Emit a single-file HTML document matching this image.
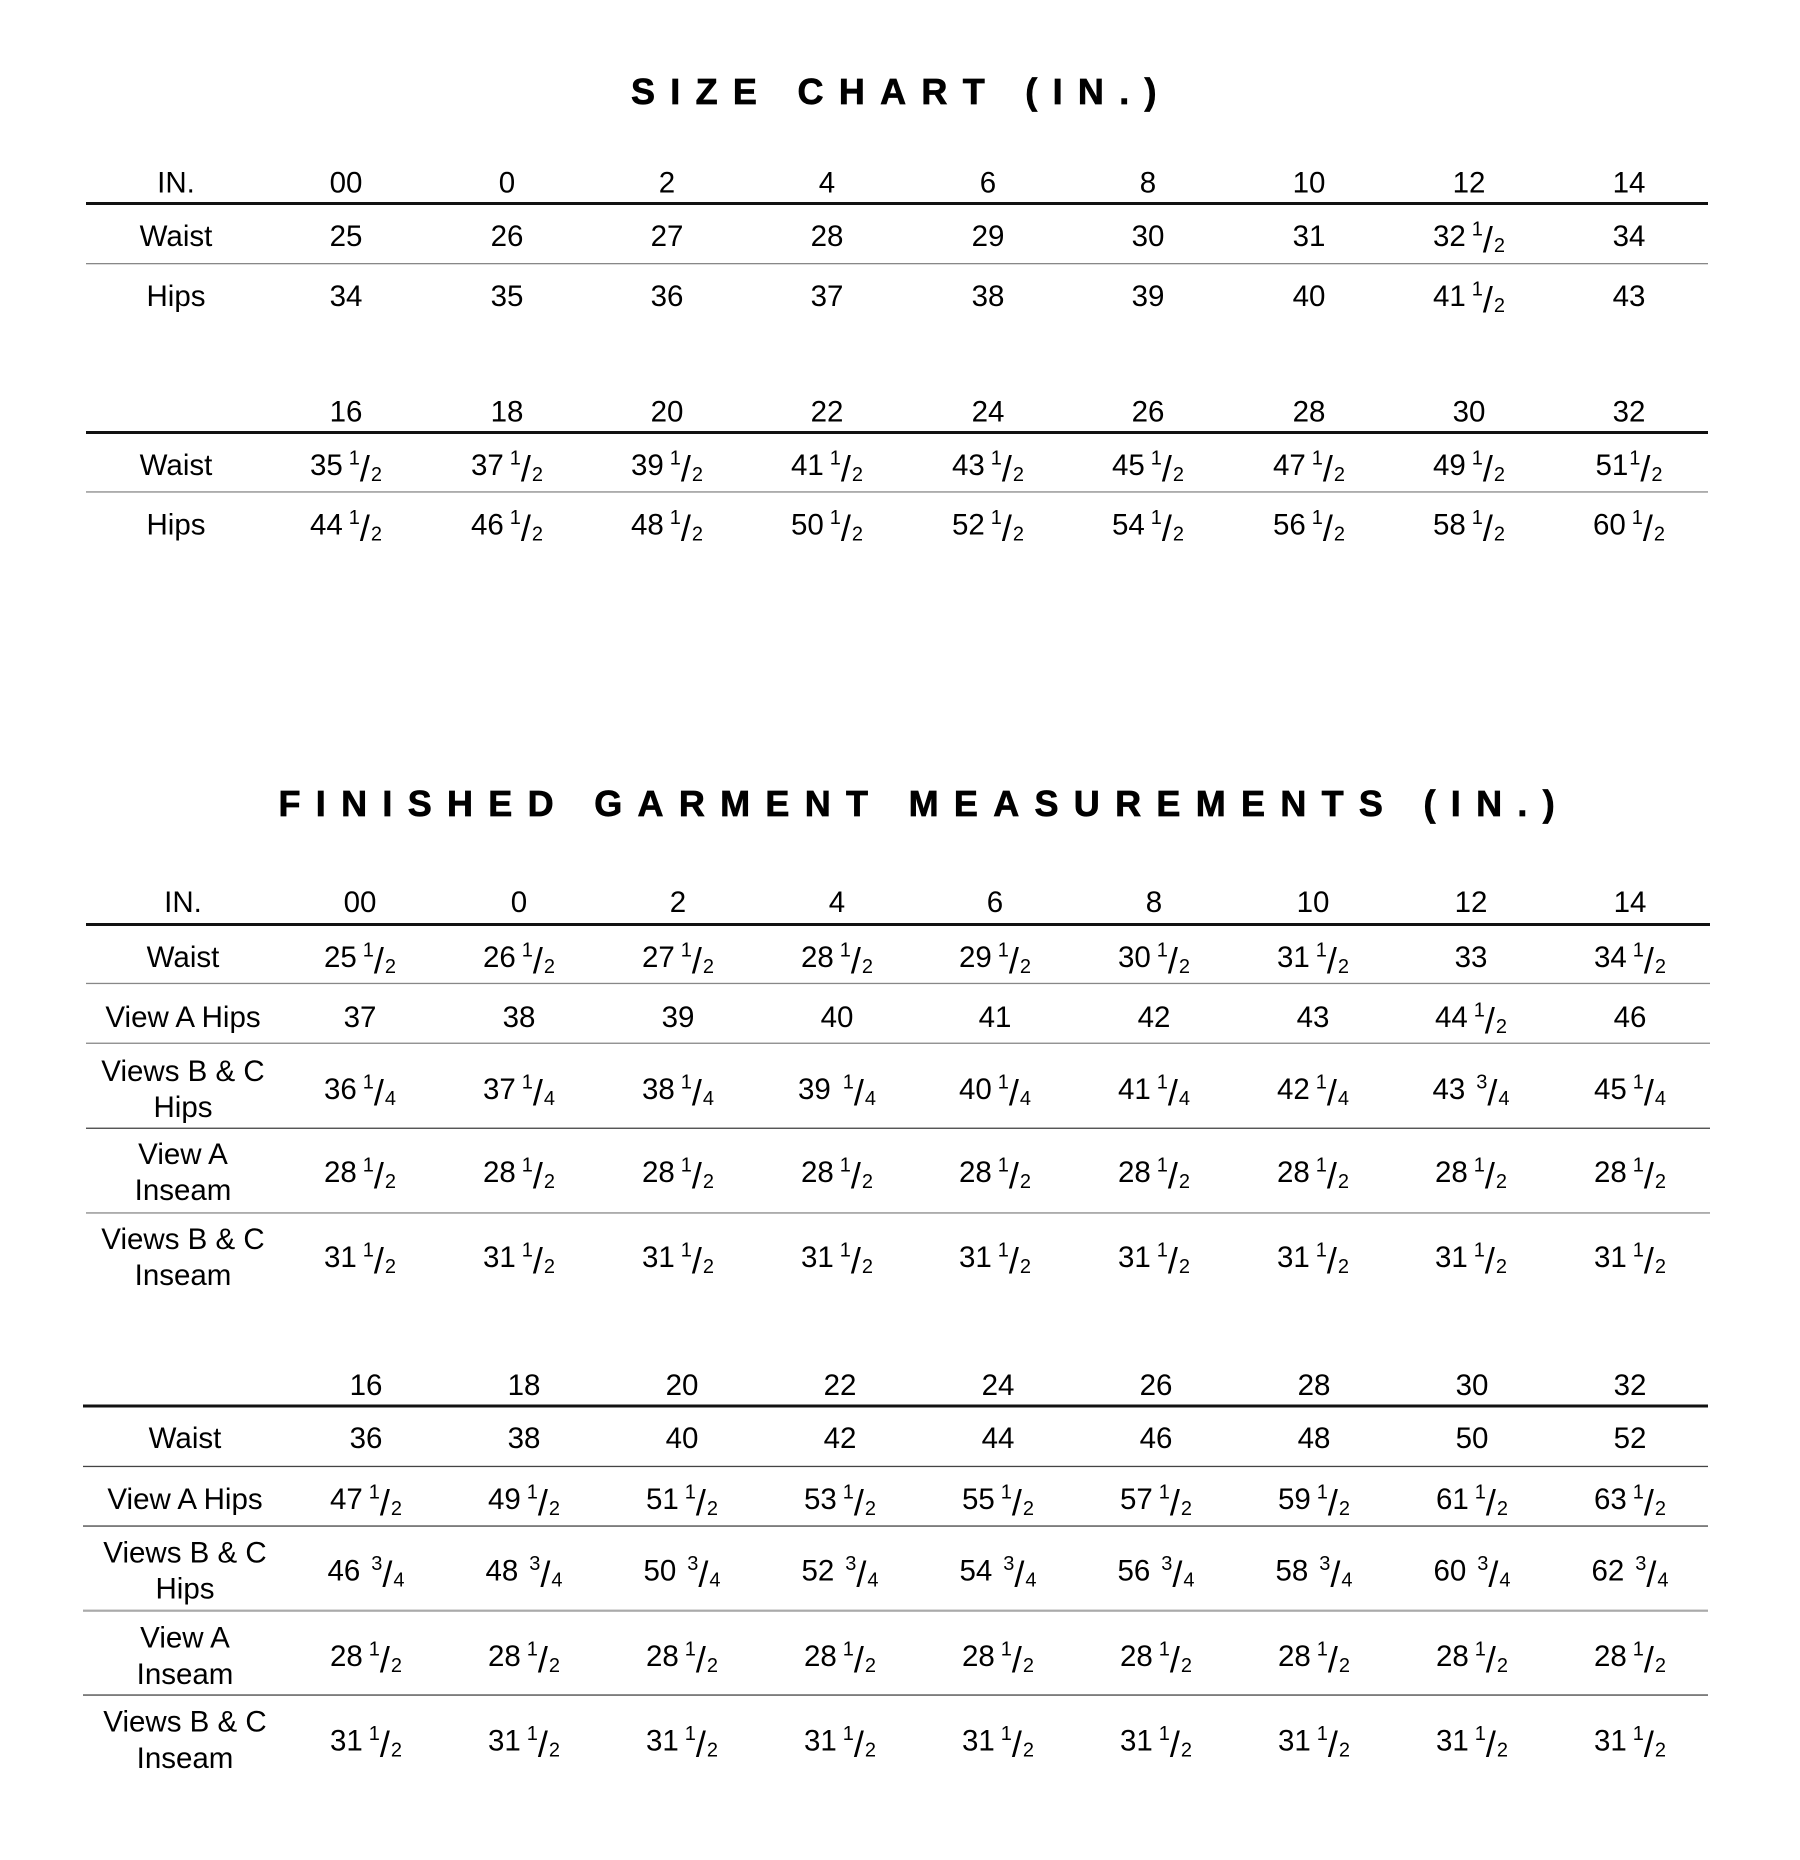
<!DOCTYPE html>
<html>
<head>
<meta charset="utf-8">
<style>
html,body{margin:0;padding:0;background:#fff;}
svg{display:block;}
text{font-family:"Liberation Sans",Arial,sans-serif;font-size:29.5px;fill:#000;text-anchor:middle;}
.f{font-size:20px;}
.sl{font-size:36px;}
text.t{font-size:36px;font-weight:bold;letter-spacing:15.3px;text-anchor:start;stroke:#000;stroke-width:0.7px;}
</style>
</head>
<body>
<svg width="1800" height="1860" viewBox="0 0 1800 1860" xmlns="http://www.w3.org/2000/svg">
<rect x="0" y="0" width="1800" height="1860" fill="#fff"/>

<!-- Titles -->
<text class="t" x="631" y="104">SIZE CHART (IN.)</text>
<text class="t" x="278.5" y="816">FINISHED GARMENT MEASUREMENTS (IN.)</text>

<!-- ===== TABLE 1 ===== -->
<rect x="86" y="202" width="1622" height="3" fill="#111"/>
<rect x="86" y="263" width="1622" height="1.3" fill="#888"/>

<text x="176" y="192.5">IN.</text>
<text x="346" y="192.5">00</text>
<text x="507" y="192.5">0</text>
<text x="667" y="192.5">2</text>
<text x="827" y="192.5">4</text>
<text x="988" y="192.5">6</text>
<text x="1148" y="192.5">8</text>
<text x="1309" y="192.5">10</text>
<text x="1469" y="192.5">12</text>
<text x="1629" y="192.5">14</text>

<text x="176" y="246">Waist</text>
<text x="346" y="246">25</text>
<text x="507" y="246">26</text>
<text x="667" y="246">27</text>
<text x="827" y="246">28</text>
<text x="988" y="246">29</text>
<text x="1148" y="246">30</text>
<text x="1309" y="246">31</text>
<text x="1469" y="246">32<tspan dx="6" dy="-10.5" class="f">1</tspan><tspan dy="16.5" class="sl">/</tspan><tspan dx="1" class="f">2</tspan></text>
<text x="1629" y="246">34</text>

<text x="176" y="306">Hips</text>
<text x="346" y="306">34</text>
<text x="507" y="306">35</text>
<text x="667" y="306">36</text>
<text x="827" y="306">37</text>
<text x="988" y="306">38</text>
<text x="1148" y="306">39</text>
<text x="1309" y="306">40</text>
<text x="1469" y="306">41<tspan dx="6" dy="-10.5" class="f">1</tspan><tspan dy="16.5" class="sl">/</tspan><tspan dx="1" class="f">2</tspan></text>
<text x="1629" y="306">43</text>

<!-- ===== TABLE 1b ===== -->
<rect x="86" y="431" width="1622" height="3" fill="#111"/>
<rect x="86" y="491.3" width="1622" height="1.3" fill="#888"/>

<text x="346" y="421.5">16</text>
<text x="507" y="421.5">18</text>
<text x="667" y="421.5">20</text>
<text x="827" y="421.5">22</text>
<text x="988" y="421.5">24</text>
<text x="1148" y="421.5">26</text>
<text x="1309" y="421.5">28</text>
<text x="1469" y="421.5">30</text>
<text x="1629" y="421.5">32</text>

<text x="176" y="475">Waist</text>
<text x="346" y="475">35<tspan dx="6" dy="-10.5" class="f">1</tspan><tspan dy="16.5" class="sl">/</tspan><tspan dx="1" class="f">2</tspan></text>
<text x="507" y="475">37<tspan dx="6" dy="-10.5" class="f">1</tspan><tspan dy="16.5" class="sl">/</tspan><tspan dx="1" class="f">2</tspan></text>
<text x="667" y="475">39<tspan dx="6" dy="-10.5" class="f">1</tspan><tspan dy="16.5" class="sl">/</tspan><tspan dx="1" class="f">2</tspan></text>
<text x="827" y="475">41<tspan dx="6" dy="-10.5" class="f">1</tspan><tspan dy="16.5" class="sl">/</tspan><tspan dx="1" class="f">2</tspan></text>
<text x="988" y="475">43<tspan dx="6" dy="-10.5" class="f">1</tspan><tspan dy="16.5" class="sl">/</tspan><tspan dx="1" class="f">2</tspan></text>
<text x="1148" y="475">45<tspan dx="6" dy="-10.5" class="f">1</tspan><tspan dy="16.5" class="sl">/</tspan><tspan dx="1" class="f">2</tspan></text>
<text x="1309" y="475">47<tspan dx="6" dy="-10.5" class="f">1</tspan><tspan dy="16.5" class="sl">/</tspan><tspan dx="1" class="f">2</tspan></text>
<text x="1469" y="475">49<tspan dx="6" dy="-10.5" class="f">1</tspan><tspan dy="16.5" class="sl">/</tspan><tspan dx="1" class="f">2</tspan></text>
<text x="1629" y="475">51<tspan dx="1" dy="-10.5" class="f">1</tspan><tspan dy="16.5" class="sl">/</tspan><tspan dx="1" class="f">2</tspan></text>

<text x="176" y="534.5">Hips</text>
<text x="346" y="534.5">44<tspan dx="6" dy="-10.5" class="f">1</tspan><tspan dy="16.5" class="sl">/</tspan><tspan dx="1" class="f">2</tspan></text>
<text x="507" y="534.5">46<tspan dx="6" dy="-10.5" class="f">1</tspan><tspan dy="16.5" class="sl">/</tspan><tspan dx="1" class="f">2</tspan></text>
<text x="667" y="534.5">48<tspan dx="6" dy="-10.5" class="f">1</tspan><tspan dy="16.5" class="sl">/</tspan><tspan dx="1" class="f">2</tspan></text>
<text x="827" y="534.5">50<tspan dx="6" dy="-10.5" class="f">1</tspan><tspan dy="16.5" class="sl">/</tspan><tspan dx="1" class="f">2</tspan></text>
<text x="988" y="534.5">52<tspan dx="6" dy="-10.5" class="f">1</tspan><tspan dy="16.5" class="sl">/</tspan><tspan dx="1" class="f">2</tspan></text>
<text x="1148" y="534.5">54<tspan dx="6" dy="-10.5" class="f">1</tspan><tspan dy="16.5" class="sl">/</tspan><tspan dx="1" class="f">2</tspan></text>
<text x="1309" y="534.5">56<tspan dx="6" dy="-10.5" class="f">1</tspan><tspan dy="16.5" class="sl">/</tspan><tspan dx="1" class="f">2</tspan></text>
<text x="1469" y="534.5">58<tspan dx="6" dy="-10.5" class="f">1</tspan><tspan dy="16.5" class="sl">/</tspan><tspan dx="1" class="f">2</tspan></text>
<text x="1629" y="534.5">60<tspan dx="6" dy="-10.5" class="f">1</tspan><tspan dy="16.5" class="sl">/</tspan><tspan dx="1" class="f">2</tspan></text>

<!-- ===== TABLE 2 ===== -->
<rect x="86" y="923" width="1624" height="3" fill="#111"/>
<rect x="86" y="982.8" width="1624" height="1.3" fill="#888"/>
<rect x="86" y="1042.6" width="1624" height="1.3" fill="#888"/>
<rect x="86" y="1127.6" width="1624" height="1.3" fill="#444"/>
<rect x="86" y="1212.3" width="1624" height="1.3" fill="#888"/>

<text x="183" y="912">IN.</text>
<text x="360" y="912">00</text>
<text x="519" y="912">0</text>
<text x="678" y="912">2</text>
<text x="837" y="912">4</text>
<text x="995" y="912">6</text>
<text x="1154" y="912">8</text>
<text x="1313" y="912">10</text>
<text x="1471" y="912">12</text>
<text x="1630" y="912">14</text>

<text x="183" y="967">Waist</text>
<text x="360" y="967">25<tspan dx="6" dy="-10.5" class="f">1</tspan><tspan dy="16.5" class="sl">/</tspan><tspan dx="1" class="f">2</tspan></text>
<text x="519" y="967">26<tspan dx="6" dy="-10.5" class="f">1</tspan><tspan dy="16.5" class="sl">/</tspan><tspan dx="1" class="f">2</tspan></text>
<text x="678" y="967">27<tspan dx="6" dy="-10.5" class="f">1</tspan><tspan dy="16.5" class="sl">/</tspan><tspan dx="1" class="f">2</tspan></text>
<text x="837" y="967">28<tspan dx="6" dy="-10.5" class="f">1</tspan><tspan dy="16.5" class="sl">/</tspan><tspan dx="1" class="f">2</tspan></text>
<text x="995" y="967">29<tspan dx="6" dy="-10.5" class="f">1</tspan><tspan dy="16.5" class="sl">/</tspan><tspan dx="1" class="f">2</tspan></text>
<text x="1154" y="967">30<tspan dx="6" dy="-10.5" class="f">1</tspan><tspan dy="16.5" class="sl">/</tspan><tspan dx="1" class="f">2</tspan></text>
<text x="1313" y="967">31<tspan dx="6" dy="-10.5" class="f">1</tspan><tspan dy="16.5" class="sl">/</tspan><tspan dx="1" class="f">2</tspan></text>
<text x="1471" y="967">33</text>
<text x="1630" y="967">34<tspan dx="6" dy="-10.5" class="f">1</tspan><tspan dy="16.5" class="sl">/</tspan><tspan dx="1" class="f">2</tspan></text>

<text x="183" y="1027">View A Hips</text>
<text x="360" y="1027">37</text>
<text x="519" y="1027">38</text>
<text x="678" y="1027">39</text>
<text x="837" y="1027">40</text>
<text x="995" y="1027">41</text>
<text x="1154" y="1027">42</text>
<text x="1313" y="1027">43</text>
<text x="1471" y="1027">44<tspan dx="6" dy="-10.5" class="f">1</tspan><tspan dy="16.5" class="sl">/</tspan><tspan dx="1" class="f">2</tspan></text>
<text x="1630" y="1027">46</text>

<text x="183" y="1081">Views B &amp; C</text>
<text x="183" y="1117">Hips</text>
<text x="360" y="1099">36<tspan dx="6" dy="-10.5" class="f">1</tspan><tspan dy="16.5" class="sl">/</tspan><tspan dx="1" class="f">4</tspan></text>
<text x="519" y="1099">37<tspan dx="6" dy="-10.5" class="f">1</tspan><tspan dy="16.5" class="sl">/</tspan><tspan dx="1" class="f">4</tspan></text>
<text x="678" y="1099">38<tspan dx="6" dy="-10.5" class="f">1</tspan><tspan dy="16.5" class="sl">/</tspan><tspan dx="1" class="f">4</tspan></text>
<text x="837" y="1099">39<tspan dx="12" dy="-10.5" class="f">1</tspan><tspan dy="16.5" class="sl">/</tspan><tspan dx="1" class="f">4</tspan></text>
<text x="995" y="1099">40<tspan dx="6" dy="-10.5" class="f">1</tspan><tspan dy="16.5" class="sl">/</tspan><tspan dx="1" class="f">4</tspan></text>
<text x="1154" y="1099">41<tspan dx="6" dy="-10.5" class="f">1</tspan><tspan dy="16.5" class="sl">/</tspan><tspan dx="1" class="f">4</tspan></text>
<text x="1313" y="1099">42<tspan dx="6" dy="-10.5" class="f">1</tspan><tspan dy="16.5" class="sl">/</tspan><tspan dx="1" class="f">4</tspan></text>
<text x="1471" y="1099">43<tspan dx="11" dy="-10.5" class="f">3</tspan><tspan dy="16.5" class="sl">/</tspan><tspan dx="1" class="f">4</tspan></text>
<text x="1630" y="1099">45<tspan dx="6" dy="-10.5" class="f">1</tspan><tspan dy="16.5" class="sl">/</tspan><tspan dx="1" class="f">4</tspan></text>

<text x="183" y="1164">View A</text>
<text x="183" y="1200">Inseam</text>
<text x="360" y="1182">28<tspan dx="6" dy="-10.5" class="f">1</tspan><tspan dy="16.5" class="sl">/</tspan><tspan dx="1" class="f">2</tspan></text>
<text x="519" y="1182">28<tspan dx="6" dy="-10.5" class="f">1</tspan><tspan dy="16.5" class="sl">/</tspan><tspan dx="1" class="f">2</tspan></text>
<text x="678" y="1182">28<tspan dx="6" dy="-10.5" class="f">1</tspan><tspan dy="16.5" class="sl">/</tspan><tspan dx="1" class="f">2</tspan></text>
<text x="837" y="1182">28<tspan dx="6" dy="-10.5" class="f">1</tspan><tspan dy="16.5" class="sl">/</tspan><tspan dx="1" class="f">2</tspan></text>
<text x="995" y="1182">28<tspan dx="6" dy="-10.5" class="f">1</tspan><tspan dy="16.5" class="sl">/</tspan><tspan dx="1" class="f">2</tspan></text>
<text x="1154" y="1182">28<tspan dx="6" dy="-10.5" class="f">1</tspan><tspan dy="16.5" class="sl">/</tspan><tspan dx="1" class="f">2</tspan></text>
<text x="1313" y="1182">28<tspan dx="6" dy="-10.5" class="f">1</tspan><tspan dy="16.5" class="sl">/</tspan><tspan dx="1" class="f">2</tspan></text>
<text x="1471" y="1182">28<tspan dx="6" dy="-10.5" class="f">1</tspan><tspan dy="16.5" class="sl">/</tspan><tspan dx="1" class="f">2</tspan></text>
<text x="1630" y="1182">28<tspan dx="6" dy="-10.5" class="f">1</tspan><tspan dy="16.5" class="sl">/</tspan><tspan dx="1" class="f">2</tspan></text>

<text x="183" y="1249">Views B &amp; C</text>
<text x="183" y="1285">Inseam</text>
<text x="360" y="1267">31<tspan dx="6" dy="-10.5" class="f">1</tspan><tspan dy="16.5" class="sl">/</tspan><tspan dx="1" class="f">2</tspan></text>
<text x="519" y="1267">31<tspan dx="6" dy="-10.5" class="f">1</tspan><tspan dy="16.5" class="sl">/</tspan><tspan dx="1" class="f">2</tspan></text>
<text x="678" y="1267">31<tspan dx="6" dy="-10.5" class="f">1</tspan><tspan dy="16.5" class="sl">/</tspan><tspan dx="1" class="f">2</tspan></text>
<text x="837" y="1267">31<tspan dx="6" dy="-10.5" class="f">1</tspan><tspan dy="16.5" class="sl">/</tspan><tspan dx="1" class="f">2</tspan></text>
<text x="995" y="1267">31<tspan dx="6" dy="-10.5" class="f">1</tspan><tspan dy="16.5" class="sl">/</tspan><tspan dx="1" class="f">2</tspan></text>
<text x="1154" y="1267">31<tspan dx="6" dy="-10.5" class="f">1</tspan><tspan dy="16.5" class="sl">/</tspan><tspan dx="1" class="f">2</tspan></text>
<text x="1313" y="1267">31<tspan dx="6" dy="-10.5" class="f">1</tspan><tspan dy="16.5" class="sl">/</tspan><tspan dx="1" class="f">2</tspan></text>
<text x="1471" y="1267">31<tspan dx="6" dy="-10.5" class="f">1</tspan><tspan dy="16.5" class="sl">/</tspan><tspan dx="1" class="f">2</tspan></text>
<text x="1630" y="1267">31<tspan dx="6" dy="-10.5" class="f">1</tspan><tspan dy="16.5" class="sl">/</tspan><tspan dx="1" class="f">2</tspan></text>

<!-- ===== TABLE 3 ===== -->
<rect x="83" y="1404.5" width="1625" height="3" fill="#111"/>
<rect x="83" y="1465.8" width="1625" height="1.3" fill="#444"/>
<rect x="83" y="1525.4" width="1625" height="1.3" fill="#444"/>
<rect x="83" y="1609.6" width="1625" height="2.2" fill="#aaa"/>
<rect x="83" y="1694.4" width="1625" height="1.3" fill="#444"/>

<text x="366" y="1395">16</text>
<text x="524" y="1395">18</text>
<text x="682" y="1395">20</text>
<text x="840" y="1395">22</text>
<text x="998" y="1395">24</text>
<text x="1156" y="1395">26</text>
<text x="1314" y="1395">28</text>
<text x="1472" y="1395">30</text>
<text x="1630" y="1395">32</text>

<text x="185" y="1448">Waist</text>
<text x="366" y="1448">36</text>
<text x="524" y="1448">38</text>
<text x="682" y="1448">40</text>
<text x="840" y="1448">42</text>
<text x="998" y="1448">44</text>
<text x="1156" y="1448">46</text>
<text x="1314" y="1448">48</text>
<text x="1472" y="1448">50</text>
<text x="1630" y="1448">52</text>

<text x="185" y="1509">View A Hips</text>
<text x="366" y="1509">47<tspan dx="6" dy="-10.5" class="f">1</tspan><tspan dy="16.5" class="sl">/</tspan><tspan dx="1" class="f">2</tspan></text>
<text x="524" y="1509">49<tspan dx="6" dy="-10.5" class="f">1</tspan><tspan dy="16.5" class="sl">/</tspan><tspan dx="1" class="f">2</tspan></text>
<text x="682" y="1509">51<tspan dx="6" dy="-10.5" class="f">1</tspan><tspan dy="16.5" class="sl">/</tspan><tspan dx="1" class="f">2</tspan></text>
<text x="840" y="1509">53<tspan dx="6" dy="-10.5" class="f">1</tspan><tspan dy="16.5" class="sl">/</tspan><tspan dx="1" class="f">2</tspan></text>
<text x="998" y="1509">55<tspan dx="6" dy="-10.5" class="f">1</tspan><tspan dy="16.5" class="sl">/</tspan><tspan dx="1" class="f">2</tspan></text>
<text x="1156" y="1509">57<tspan dx="6" dy="-10.5" class="f">1</tspan><tspan dy="16.5" class="sl">/</tspan><tspan dx="1" class="f">2</tspan></text>
<text x="1314" y="1509">59<tspan dx="6" dy="-10.5" class="f">1</tspan><tspan dy="16.5" class="sl">/</tspan><tspan dx="1" class="f">2</tspan></text>
<text x="1472" y="1509">61<tspan dx="6" dy="-10.5" class="f">1</tspan><tspan dy="16.5" class="sl">/</tspan><tspan dx="1" class="f">2</tspan></text>
<text x="1630" y="1509">63<tspan dx="6" dy="-10.5" class="f">1</tspan><tspan dy="16.5" class="sl">/</tspan><tspan dx="1" class="f">2</tspan></text>

<text x="185" y="1562.5">Views B &amp; C</text>
<text x="185" y="1598.5">Hips</text>
<text x="366" y="1580.5">46<tspan dx="11" dy="-10.5" class="f">3</tspan><tspan dy="16.5" class="sl">/</tspan><tspan dx="1" class="f">4</tspan></text>
<text x="524" y="1580.5">48<tspan dx="11" dy="-10.5" class="f">3</tspan><tspan dy="16.5" class="sl">/</tspan><tspan dx="1" class="f">4</tspan></text>
<text x="682" y="1580.5">50<tspan dx="11" dy="-10.5" class="f">3</tspan><tspan dy="16.5" class="sl">/</tspan><tspan dx="1" class="f">4</tspan></text>
<text x="840" y="1580.5">52<tspan dx="11" dy="-10.5" class="f">3</tspan><tspan dy="16.5" class="sl">/</tspan><tspan dx="1" class="f">4</tspan></text>
<text x="998" y="1580.5">54<tspan dx="11" dy="-10.5" class="f">3</tspan><tspan dy="16.5" class="sl">/</tspan><tspan dx="1" class="f">4</tspan></text>
<text x="1156" y="1580.5">56<tspan dx="11" dy="-10.5" class="f">3</tspan><tspan dy="16.5" class="sl">/</tspan><tspan dx="1" class="f">4</tspan></text>
<text x="1314" y="1580.5">58<tspan dx="11" dy="-10.5" class="f">3</tspan><tspan dy="16.5" class="sl">/</tspan><tspan dx="1" class="f">4</tspan></text>
<text x="1472" y="1580.5">60<tspan dx="11" dy="-10.5" class="f">3</tspan><tspan dy="16.5" class="sl">/</tspan><tspan dx="1" class="f">4</tspan></text>
<text x="1630" y="1580.5">62<tspan dx="11" dy="-10.5" class="f">3</tspan><tspan dy="16.5" class="sl">/</tspan><tspan dx="1" class="f">4</tspan></text>

<text x="185" y="1647.5">View A</text>
<text x="185" y="1684">Inseam</text>
<text x="366" y="1666">28<tspan dx="6" dy="-10.5" class="f">1</tspan><tspan dy="16.5" class="sl">/</tspan><tspan dx="1" class="f">2</tspan></text>
<text x="524" y="1666">28<tspan dx="6" dy="-10.5" class="f">1</tspan><tspan dy="16.5" class="sl">/</tspan><tspan dx="1" class="f">2</tspan></text>
<text x="682" y="1666">28<tspan dx="6" dy="-10.5" class="f">1</tspan><tspan dy="16.5" class="sl">/</tspan><tspan dx="1" class="f">2</tspan></text>
<text x="840" y="1666">28<tspan dx="6" dy="-10.5" class="f">1</tspan><tspan dy="16.5" class="sl">/</tspan><tspan dx="1" class="f">2</tspan></text>
<text x="998" y="1666">28<tspan dx="6" dy="-10.5" class="f">1</tspan><tspan dy="16.5" class="sl">/</tspan><tspan dx="1" class="f">2</tspan></text>
<text x="1156" y="1666">28<tspan dx="6" dy="-10.5" class="f">1</tspan><tspan dy="16.5" class="sl">/</tspan><tspan dx="1" class="f">2</tspan></text>
<text x="1314" y="1666">28<tspan dx="6" dy="-10.5" class="f">1</tspan><tspan dy="16.5" class="sl">/</tspan><tspan dx="1" class="f">2</tspan></text>
<text x="1472" y="1666">28<tspan dx="6" dy="-10.5" class="f">1</tspan><tspan dy="16.5" class="sl">/</tspan><tspan dx="1" class="f">2</tspan></text>
<text x="1630" y="1666">28<tspan dx="6" dy="-10.5" class="f">1</tspan><tspan dy="16.5" class="sl">/</tspan><tspan dx="1" class="f">2</tspan></text>

<text x="185" y="1731.5">Views B &amp; C</text>
<text x="185" y="1768">Inseam</text>
<text x="366" y="1750.5">31<tspan dx="6" dy="-10.5" class="f">1</tspan><tspan dy="16.5" class="sl">/</tspan><tspan dx="1" class="f">2</tspan></text>
<text x="524" y="1750.5">31<tspan dx="6" dy="-10.5" class="f">1</tspan><tspan dy="16.5" class="sl">/</tspan><tspan dx="1" class="f">2</tspan></text>
<text x="682" y="1750.5">31<tspan dx="6" dy="-10.5" class="f">1</tspan><tspan dy="16.5" class="sl">/</tspan><tspan dx="1" class="f">2</tspan></text>
<text x="840" y="1750.5">31<tspan dx="6" dy="-10.5" class="f">1</tspan><tspan dy="16.5" class="sl">/</tspan><tspan dx="1" class="f">2</tspan></text>
<text x="998" y="1750.5">31<tspan dx="6" dy="-10.5" class="f">1</tspan><tspan dy="16.5" class="sl">/</tspan><tspan dx="1" class="f">2</tspan></text>
<text x="1156" y="1750.5">31<tspan dx="6" dy="-10.5" class="f">1</tspan><tspan dy="16.5" class="sl">/</tspan><tspan dx="1" class="f">2</tspan></text>
<text x="1314" y="1750.5">31<tspan dx="6" dy="-10.5" class="f">1</tspan><tspan dy="16.5" class="sl">/</tspan><tspan dx="1" class="f">2</tspan></text>
<text x="1472" y="1750.5">31<tspan dx="6" dy="-10.5" class="f">1</tspan><tspan dy="16.5" class="sl">/</tspan><tspan dx="1" class="f">2</tspan></text>
<text x="1630" y="1750.5">31<tspan dx="6" dy="-10.5" class="f">1</tspan><tspan dy="16.5" class="sl">/</tspan><tspan dx="1" class="f">2</tspan></text>
</svg>
</body>
</html>
